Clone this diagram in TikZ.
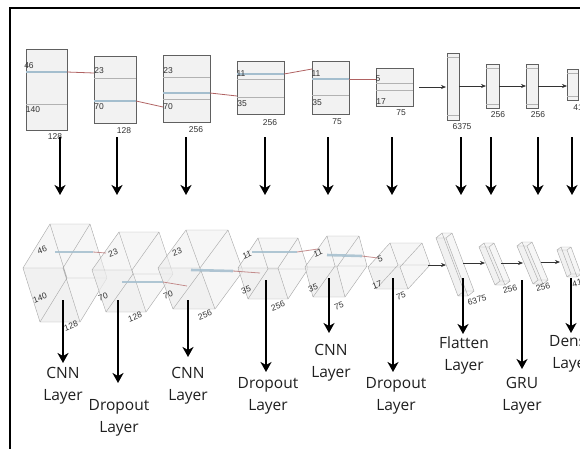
\documentclass[tikz,border=0pt]{standalone}
\usepackage{fontspec}
\setmainfont{Open Sans}
\newfontfamily\numfont{Liberation Sans}
\usetikzlibrary{arrows.meta,calc}

\definecolor{bandblue}{RGB}{164,190,206}
\definecolor{tailred}{RGB}{176,98,98}
\definecolor{boxfill}{RGB}{242,242,242}

% cuboid: name, x, y (front top-left), width, height, skew, depth-x, depth-y
\newcommand{\cuboid}[8]{%
  \coordinate (#1-a) at (#2,#3);
  \coordinate (#1-b) at (#2+#4,#3);
  \coordinate (#1-c) at (#2+#4+#6,#3+#5);
  \coordinate (#1-d) at (#2+#6,#3+#5);
  \coordinate (#1-e) at (#2+#7,#3-#8);
  \coordinate (#1-f) at (#2+#4+#7,#3-#8);
  \coordinate (#1-g) at (#2+#4+#6+#7,#3+#5-#8);
  \coordinate (#1-h) at (#2+#6+#7,#3+#5-#8);
  \fill[face] (#1-a)--(#1-e)--(#1-f)--(#1-g)--(#1-c)--(#1-d)--cycle;
  \fill[face] (#1-a)--(#1-b)--(#1-c)--(#1-d)--cycle;
  \draw[edge] (#1-a)--(#1-b)--(#1-c)--(#1-d)--cycle
              (#1-e)--(#1-f)--(#1-g)--(#1-h)--cycle
              (#1-a)--(#1-e) (#1-b)--(#1-f) (#1-c)--(#1-g) (#1-d)--(#1-h);
}
% flat box: name, x1, y1, x2, y2
\newcommand{\flatbox}[5]{%
  \coordinate (#1-nw) at (#2,#3);
  \coordinate (#1-se) at (#4,#5);
  \draw[flatbox] (#1-nw) rectangle (#1-se);
}

\begin{document}
\begin{tikzpicture}[x=1pt,y=-1pt,
  frame/.style={line width=2.2pt, black},
  flatbox/.style={draw=gray!75!black, fill=boxfill, line width=0.6pt},
  innerline/.style={draw=gray!60, line width=0.5pt},
  band/.style={draw=bandblue, line width=2.6pt},
  tail/.style={draw=tailred, line width=0.8pt},
  dim/.style={font=\numfont\fontsize{8.5}{10}\selectfont, text=black!80, inner sep=0pt},
  layerarrow/.style={line width=2.6pt, -{Stealth[length=10pt,width=11pt,inset=3pt]}},
  flowarrow/.style={line width=0.6pt, black!80, -{Stealth[length=5pt,width=4pt]}},
  layerlabel/.style={font=\fontsize{15.5}{22}\selectfont, text=black!88, align=center, inner sep=0pt},
  edge/.style={draw=gray!65, line width=0.45pt},
  face/.style={fill=gray!14, fill opacity=0.5}
]
\useasboundingbox (0,0) rectangle (580,448);

% outer frame (top and left sides)
\coordinate (fr-tr) at (582,8);
\coordinate (fr-tl) at (10,8);
\coordinate (fr-bl) at (10,450);
\draw[frame] (fr-tr) -- (fr-tl) -- (fr-bl);

% ---------- flat view ----------
\flatbox{t1}{26}{49}{67}{130}
\draw[innerline] (26,104) -- (67,104);
\flatbox{t2}{94}{56}{136}{123}
\draw[innerline] (94,78) -- (136,78);
\flatbox{t3}{163}{55}{210}{122}
\draw[innerline] (163,77) -- (210,77) (163,99) -- (210,99);
\flatbox{t4}{237}{61}{284}{114}
\draw[innerline] (237,79) -- (284,79) (237,97) -- (284,97);
\flatbox{t5}{312}{61}{349}{114}
\draw[innerline] (312,95) -- (349,95);
\flatbox{t6}{376}{68}{413}{106}
\draw[innerline] (376,83) -- (413,83) (376,90) -- (413,90);
\flatbox{t7}{447}{53}{459}{120}
\draw[innerline] (447,57) -- (459,57) (447,115) -- (459,115);
\flatbox{t8}{486}{64}{499}{108}
\draw[innerline] (486,68) -- (499,68) (486,104) -- (499,104);
\flatbox{t9}{526}{64}{538}{108}
\draw[innerline] (526,68) -- (538,68) (526,104) -- (538,104);
\flatbox{t10}{567}{69}{578}{100}
\draw[innerline] (567,73) -- (578,73) (567,96) -- (578,96);

% kernel bands and links
\coordinate (k1a) at (26,72);   \coordinate (k1b) at (67,72);   \coordinate (k1c) at (94,73);
\coordinate (k2a) at (94,101);  \coordinate (k2b) at (136,101); \coordinate (k2c) at (163,107);
\coordinate (k3a) at (163,93);  \coordinate (k3b) at (210,93);  \coordinate (k3c) at (237,96);
\coordinate (k4a) at (237,74);  \coordinate (k4b) at (284,74);  \coordinate (k4c) at (312,69);
\coordinate (k5a) at (312,79);  \coordinate (k5b) at (349,79);  \coordinate (k5c) at (376,79);
\foreach \k in {1,...,5}{
  \draw[band] (k\k a) -- (k\k b);
  \draw[tail] (k\k b) -- (k\k c);
}

% flow arrows between dense blocks
\coordinate (f0a) at (419,87); \coordinate (f0b) at (446,87);
\coordinate (f1a) at (459,86); \coordinate (f1b) at (486,86);
\coordinate (f2a) at (499,86); \coordinate (f2b) at (526,86);
\coordinate (f3a) at (538,86); \coordinate (f3b) at (567,86);
\foreach \k in {0,...,3}{ \draw[flowarrow] (f\k a) -- (f\k b); }

% dimension labels, flat view
\node[dim] (d1a) at (29,66)  {46};
\node[dim] (d1b) at (33,110) {140};
\node[dim] (d1c) at (55,137) {128};
\node[dim] (d2a) at (99,71)  {23};
\node[dim] (d2b) at (99,107) {70};
\node[dim] (d2c) at (124,131) {128};
\node[dim] (d3a) at (168,71) {23};
\node[dim] (d3b) at (168,107) {70};
\node[dim] (d3c) at (196,130) {256};
\node[dim] (d4a) at (241,74) {11};
\node[dim] (d4b) at (242,104) {35};
\node[dim] (d4c) at (270,123) {256};
\node[dim] (d5a) at (316,74) {11};
\node[dim] (d5b) at (317,103) {35};
\node[dim] (d5c) at (337,122) {75};
\node[dim] (d6a) at (378,79) {5};
\node[dim] (d6b) at (381,102) {17};
\node[dim] (d6c) at (401,113) {75};
\node[dim] (d7)  at (462,127) {6375};
\node[dim] (d8)  at (498,115) {256};
\node[dim] (d9)  at (538,115) {256};
\node[dim] (d10) at (578,108) {41};

% arrows from flat view to 3D view
\foreach \i/\x in {1/60,2/117,3/186,4/265,5/328,6/392,7/461,8/491,9/538,10/572}{
  \coordinate (ta\i) at (\x,137);
  \coordinate (tb\i) at (\x,195);
  \draw[layerarrow] (ta\i) -- (tb\i);
}

% ---------- 3D view ----------
\cuboid{c1}{23}{268}{40}{54}{17}{27}{44}
\cuboid{c2}{92}{270}{40}{42}{14}{27}{38}
\cuboid{c3}{158}{268}{42}{41}{15}{28}{38}
\cuboid{c4}{238}{268}{40}{31}{10}{20}{30}
\cuboid{c5}{305}{267}{32}{30}{8}{22}{31}
\cuboid{c6}{368}{267}{32}{22}{8}{22}{24}
\cuboid{c7}{436}{238}{10}{58}{22}{6}{5}
\cuboid{c8}{479}{247}{10}{38}{16}{5}{4}
\cuboid{c9}{517}{246}{10}{38}{16}{5}{4}
\cuboid{c10}{557}{250}{10}{27}{10}{4}{3}

% kernel bands, 3D view
\coordinate (q1a) at (55,252);  \coordinate (q1b) at (93,252);  \coordinate (q1c) at (106,253);
\coordinate (q2a) at (122,282); \coordinate (q2b) at (163,282); \coordinate (q2c) at (187,286);
\coordinate (q3a) at (191,270); \coordinate (q3b) at (233,271); \coordinate (q3c) at (260,273);
\coordinate (q4a) at (252,252); \coordinate (q4b) at (297,252); \coordinate (q4c) at (318,249);
\coordinate (q5a) at (327,255); \coordinate (q5b) at (362,256); \coordinate (q5c) at (378,258);
\foreach \k in {1,...,5}{
  \draw[band, opacity=0.85] (q\k a) -- (q\k b);
  \draw[tail, opacity=0.7] (q\k b) -- (q\k c);
}

% flow arrows, 3D view
\coordinate (g0a) at (428,265); \coordinate (g0b) at (446,265);
\coordinate (g1a) at (463,263); \coordinate (g1b) at (485,263);
\coordinate (g2a) at (501,263); \coordinate (g2b) at (523,263);
\coordinate (g3a) at (541,262); \coordinate (g3b) at (560,262);
\foreach \k in {0,...,3}{ \draw[flowarrow] (g\k a) -- (g\k b); }

% dimension labels, 3D view
\node[dim, rotate=20] (e1a) at (42,250) {46};
\node[dim, rotate=20] (e1b) at (40,298) {140};
\node[dim, rotate=20] (e1c) at (71,326) {128};
\node[dim, rotate=20] (e2a) at (113,253) {23};
\node[dim, rotate=20] (e2b) at (103,297) {70};
\node[dim, rotate=20] (e2c) at (135,317) {128};
\node[dim, rotate=20] (e3a) at (177,252) {23};
\node[dim, rotate=20] (e3b) at (168,295) {70};
\node[dim, rotate=20] (e3c) at (205,315) {256};
\node[dim, rotate=20] (e4a) at (247,255) {11};
\node[dim, rotate=20] (e4b) at (246,290) {35};
\node[dim, rotate=20] (e4c) at (278,306) {256};
\node[dim, rotate=20] (e5a) at (318,253) {11};
\node[dim, rotate=20] (e5b) at (313,288) {35};
\node[dim, rotate=20] (e5c) at (339,306) {75};
\node[dim, rotate=20] (e6a) at (380,259) {5};
\node[dim, rotate=20] (e6b) at (377,285) {17};
\node[dim, rotate=20] (e6c) at (401,296) {75};
\node[dim, rotate=15] (e7)  at (477,300) {6375};
\node[dim, rotate=15] (e8)  at (510,289) {256};
\node[dim, rotate=15] (e9)  at (543,287) {256};
\node[dim, rotate=15] (e10) at (577,283) {41};

% layer names
\node[layerlabel] (l1) at (63,386)  {CNN\\Layer};
\node[layerlabel] (l2) at (119,418) {Dropout\\Layer};
\node[layerlabel] (l3) at (188,386) {CNN\\Layer};
\node[layerlabel] (l4) at (268,396) {Dropout\\Layer};
\node[layerlabel] (l5) at (331,363) {CNN\\Layer};
\node[layerlabel] (l6) at (396,396) {Dropout\\Layer};
\node[layerlabel] (l7) at (464,355) {Flatten\\Layer};
\node[layerlabel] (l8) at (522,396) {GRU\\Layer};
\node[layerlabel] (l9) at (572,354) {Dense\\Layer};

% arrows from 3D view to layer names
\foreach \i/\x/\ys/\ye in {1/63/300/363,2/118/300/383,3/188/300/357,4/266/280/372,
                          5/329/278/333,6/393/278/372,7/463/278/334,8/522/280/369,9/571/278/333}{
  \coordinate (ba\i) at (\x,\ys);
  \coordinate (bb\i) at (\x,\ye);
  \draw[layerarrow] (ba\i) -- (bb\i);
}
\end{tikzpicture}
\end{document}
